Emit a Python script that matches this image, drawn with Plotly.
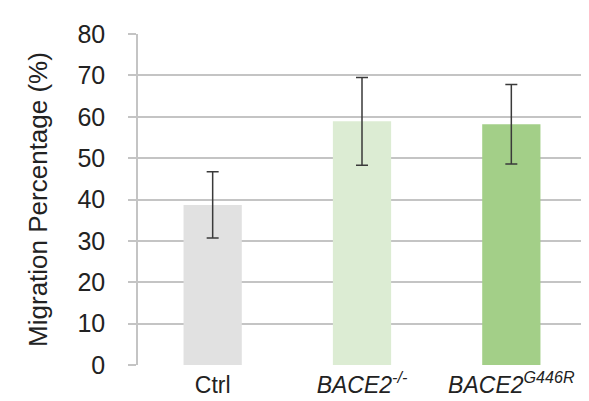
import plotly.graph_objects as go

categories = ["Ctrl", "<i>BACE2<sup>-/-</sup></i>", "<i>BACE2<sup>G446R</sup></i>"]
values = [38.7, 58.9, 58.2]
errors = [8.0, 10.6, 9.6]
colors = ["#e1e1e1", "#dcecd3", "#a3cf88"]
y_ticks = [0, 10, 20, 30, 40, 50, 60, 70, 80]

fig = go.Figure(
    go.Bar(
        x=categories,
        y=values,
        marker=dict(color=colors, line=dict(width=0)),
        error_y=dict(type="data", array=errors, visible=True,
                     color="#3a3a3a", thickness=1.5, width=6),
        width=0.39,
    )
)

fig.update_layout(
    width=589, height=401,
    margin=dict(l=130, r=11, t=26, b=44),
    paper_bgcolor="white", plot_bgcolor="white",
    font=dict(family="Liberation Sans, Arial, sans-serif", color="#222222"),
    showlegend=False,
)
fig.update_xaxes(
    showgrid=False, showline=False, ticks="",
    tickfont=dict(size=23), ticklabelstandoff=4,
)
fig.update_yaxes(
    range=[0, 80], tickvals=y_ticks,
    showgrid=True, gridcolor="#c4c4c4", gridwidth=1.5,
    zeroline=False,
    showline=True, linecolor="#c4c4c4", linewidth=1.5,
    ticks="outside", ticklen=8, tickcolor="#c4c4c4", tickwidth=1.5,
    tickfont=dict(size=25), ticklabelstandoff=18,
    title=dict(text="Migration Percentage (%)", font=dict(size=26), standoff=22),
)

fig.write_html("out.html")
